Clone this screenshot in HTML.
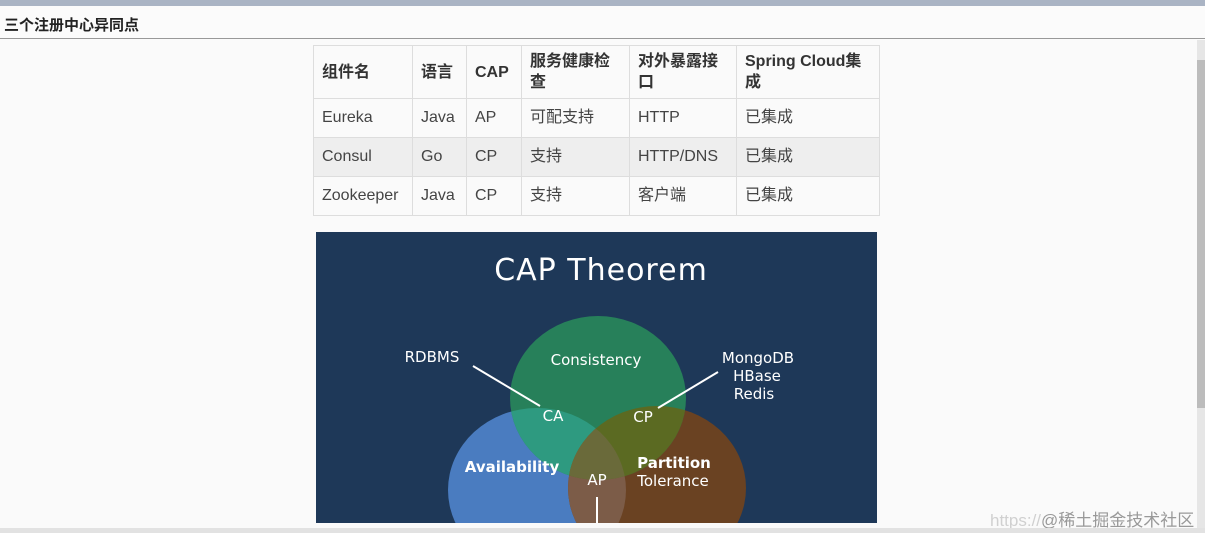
<!DOCTYPE html>
<html><head><meta charset="utf-8"><style>
html,body{margin:0;width:1205px;height:533px;overflow:hidden;}
body{background:#fafafa;position:relative;font-family:"Liberation Sans","Noto Sans CJK SC",sans-serif;}
.top{position:absolute;left:0;top:0;width:1205px;height:6px;background:#aab4c4;}
.hdr{position:absolute;left:0;top:6px;width:1205px;height:32px;background:#fbfbfb;border-bottom:1px solid #999;}
.hdr span{position:absolute;left:4px;top:8px;font-size:15px;font-weight:bold;color:#222;}
table{position:absolute;left:313px;top:45px;border-collapse:collapse;font-size:16px;color:#444;}
td{border:1px solid #ddd;padding:0 8px;vertical-align:middle;line-height:20px;}
tr.h td{height:52px;font-weight:bold;color:#333;line-height:21px;}
tr.r td{height:38px;}
tr.g td{background:#eee;}
.sb{position:absolute;left:1197px;top:40px;width:8px;height:488px;background:#e6e6e6;}
.th{position:absolute;left:1197px;top:60px;width:8px;height:348px;background:#bcbcbc;}
.bot{position:absolute;left:0;top:528px;width:1205px;height:5px;background:#e2e2e2;}
.wm{position:absolute;left:990px;top:506px;width:210px;height:22px;overflow:hidden;font-size:17px;color:#d0d0d0;white-space:nowrap;}
.wm b{font-weight:normal;color:#999;}
svg{position:absolute;left:0;top:0;overflow:hidden;}
</style></head><body>
<div class="top"></div>
<div class="hdr"><span>三个注册中心异同点</span></div>
<table>
<colgroup><col style="width:99px"><col style="width:54px"><col style="width:55px"><col style="width:108px"><col style="width:107px"><col style="width:143px"></colgroup>
<tr class="h"><td>组件名</td><td>语言</td><td>CAP</td><td>服务健康检查</td><td>对外暴露接口</td><td>Spring Cloud集成</td></tr>
<tr class="r"><td>Eureka</td><td>Java</td><td>AP</td><td>可配支持</td><td>HTTP</td><td>已集成</td></tr>
<tr class="r g"><td>Consul</td><td>Go</td><td>CP</td><td>支持</td><td>HTTP/DNS</td><td>已集成</td></tr>
<tr class="r"><td>Zookeeper</td><td>Java</td><td>CP</td><td>支持</td><td>客户端</td><td>已集成</td></tr>
</table>
<svg width="1205" height="523">
<defs>
<clipPath id="cA"><ellipse cx="537" cy="490" rx="89" ry="82"/></clipPath>
<clipPath id="cP"><ellipse cx="657" cy="488" rx="89" ry="82"/></clipPath>
</defs>
<rect x="316" y="232" width="561" height="291" fill="#1e3858"/>
<ellipse cx="537" cy="490" rx="89" ry="82" fill="#4a7cc0"/>
<ellipse cx="657" cy="488" rx="89" ry="82" fill="#6a4222"/>
<ellipse cx="598" cy="398" rx="88" ry="82" fill="#27805a"/>
<g clip-path="url(#cA)"><ellipse cx="598" cy="398" rx="88" ry="82" fill="#2e9a80"/><ellipse cx="657" cy="488" rx="89" ry="82" fill="#7c5c48"/></g>
<g clip-path="url(#cP)"><ellipse cx="598" cy="398" rx="88" ry="82" fill="#5b6a22"/></g>
<g clip-path="url(#cA)"><g clip-path="url(#cP)"><ellipse cx="598" cy="398" rx="88" ry="82" fill="#6a6a3a"/></g></g>
<g stroke="#fff" stroke-width="2"><line x1="473" y1="366" x2="540" y2="406"/><line x1="718" y1="372" x2="658" y2="408"/><line x1="597" y1="497" x2="597" y2="523"/></g>
<g fill="#fff" font-family="DejaVu Sans,Liberation Sans,sans-serif" text-anchor="middle" font-size="15">
<text x="601" y="280" font-size="30" letter-spacing="1">CAP Theorem</text>
<text x="596" y="365">Consistency</text>
<text x="432" y="362">RDBMS</text>
<text x="758" y="363">MongoDB</text>
<text x="757" y="381">HBase</text>
<text x="754" y="399">Redis</text>
<text x="553" y="421">CA</text>
<text x="643" y="422">CP</text>
<text x="512" y="472" font-weight="bold">Availability</text>
<text x="597" y="485">AP</text>
<text x="674" y="468" font-weight="bold">Partition</text>
<text x="673" y="486">Tolerance</text>
</g>
</svg>
<div class="sb"></div><div class="th"></div>
<div class="bot"></div>
<div class="wm">https://<b>@稀土掘金技术社区</b></div>
</body></html>
